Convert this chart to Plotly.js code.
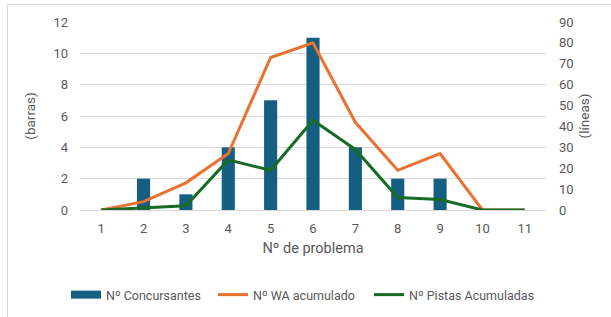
<!DOCTYPE html>
<html>
<head>
<meta charset="utf-8">
<script src="https://cdn.plot.ly/plotly-3.0.1.min.js"></script>
<style>
  html, body { margin: 0; padding: 0; background: #fff; }
  #frame { position: absolute; left: 7px; top: 4px; width: 620px; height: 330px; border-left: 1px solid #d9d9d9; border-top: 1px solid #d9d9d9; }
  #chart { position: absolute; left: 0; top: 0; width: 611px; height: 317px; }
</style>
</head>
<body>
<div id="frame"></div>
<div id="chart"></div>
<script>
const problems = [1, 2, 3, 4, 5, 6, 7, 8, 9, 10, 11];
const concursantes = [0, 2, 1, 4, 7, 11, 4, 2, 2, 0, 0];
const waAcumulado = [0, 4, 13, 27, 73, 80, 42, 19, 27, 0, 0];
const pistasAcumuladas = [0, 1, 2, 24, 19, 43, 29, 6, 5, 0, 0];

const seriesNames = ["Nº Concursantes", "Nº WA acumulado", "Nº Pistas Acumuladas"];
const colors = { bar: "#156082", wa: "#E97132", pistas: "#196B24" };
const textColor = "#595959";
const font = "Roboto, 'Liberation Sans', Arial, sans-serif";

const traces = [
  {
    type: "bar", x: problems, y: concursantes, name: seriesNames[0],
    marker: { color: colors.bar }, width: 0.31, yaxis: "y", showlegend: false, hoverinfo: "x+y"
  },
  {
    type: "scatter", mode: "lines", x: [null], y: [null], name: seriesNames[0],
    line: { color: colors.bar, width: 8 }, yaxis: "y", hoverinfo: "skip", legend: "legend"
  },
  {
    type: "scatter", mode: "lines", x: problems, y: waAcumulado, name: seriesNames[1],
    line: { color: colors.wa, width: 3 }, yaxis: "y2", legend: "legend2"
  },
  {
    type: "scatter", mode: "lines", x: problems, y: pistasAcumuladas, name: seriesNames[2],
    line: { color: colors.pistas, width: 3 }, yaxis: "y2", legend: "legend3"
  }
];

const W = 611, H = 317;
function legendAt(swatchX) {
  return {
    orientation: "h", xref: "container", yref: "container",
    x: (swatchX - 5) / W, xanchor: "left",
    y: 1 - 295 / H, yanchor: "middle",
    font: { size: 12.5, color: textColor }, itemwidth: 30,
    bgcolor: "rgba(0,0,0,0)"
  };
}

const layout = {
  width: W, height: H,
  margin: { l: 80, r: 65, t: 22, b: 107 },
  paper_bgcolor: "rgba(0,0,0,0)", plot_bgcolor: "rgba(0,0,0,0)",
  font: { family: font, color: textColor, size: 13 },
  showlegend: true,
  legend: legendAt(71),
  legend2: legendAt(218),
  legend3: legendAt(374),
  xaxis: {
    range: [0.5, 11.5], tickvals: problems, ticktext: problems.map(String),
    showgrid: false, zeroline: false, showline: false, ticks: "",
    ticklabelstandoff: 9, automargin: false,
    title: { text: "Nº de problema", font: { size: 14.5, color: textColor }, standoff: 7 },
    tickfont: { size: 13, color: textColor }
  },
  yaxis: {
    range: [0, 12], dtick: 2, tick0: 0, showgrid: true, gridcolor: "#d9d9d9", gridwidth: 1,
    zeroline: true, zerolinecolor: "#d9d9d9", zerolinewidth: 1, showline: false, ticks: "",
    ticklabelstandoff: 11, automargin: false,
    title: { text: "(barras)", font: { size: 13.5, color: textColor }, standoff: 14 },
    tickfont: { size: 13, color: textColor }
  },
  yaxis2: {
    overlaying: "y", side: "right", range: [0, 90], dtick: 10, tick0: 0,
    showgrid: false, zeroline: false, showline: false, ticks: "",
    ticklabelstandoff: 12, automargin: false,
    title: { text: "(líneas)", font: { size: 13.5, color: textColor }, standoff: 6 },
    tickfont: { size: 13, color: textColor }
  }
};

Plotly.newPlot("chart", traces, layout, { displayModeBar: false, staticPlot: true });
</script>
</body>
</html>
